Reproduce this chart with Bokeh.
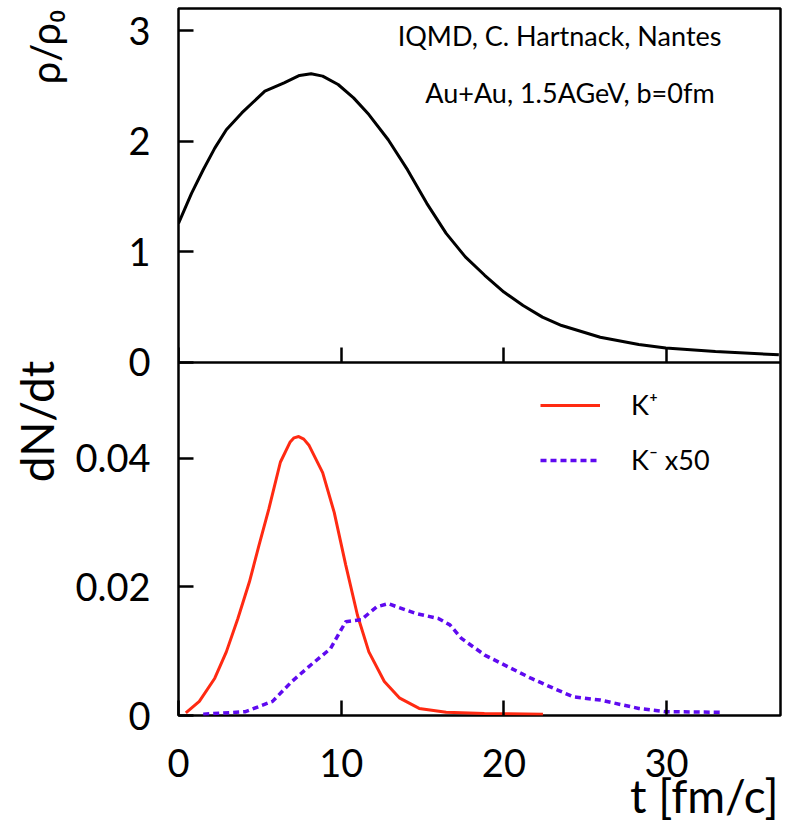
import math
from bokeh.plotting import figure
from bokeh.layouts import row
from bokeh.models import (Range1d, LinearAxis, FixedTicker, Label, Legend, LegendItem, GridBox)
from bokeh.embed import file_html
from bokeh.resources import INLINE

FONT = "Lato"

# ---- data ----
t_rho = [0, 0.8, 1.52, 2.23, 2.94, 3.89, 5.31, 6.49, 7.44, 8.15, 8.86, 9.81, 10.76, 11.7,
         12.89, 14.08, 15.26, 16.45, 17.63, 18.82, 20.0, 21.18, 22.37, 23.55, 25.92, 28.29,
         29.95, 33.0, 36.9]
rho = [1.255, 1.527, 1.74, 1.936, 2.103, 2.255, 2.452, 2.527, 2.594, 2.609, 2.588, 2.512,
       2.391, 2.24, 2.012, 1.739, 1.436, 1.164, 0.952, 0.785, 0.633, 0.512, 0.406, 0.33,
       0.224, 0.158, 0.127, 0.094, 0.066]

t_kp = [0.45, 1.28, 2.23, 2.94, 3.65, 4.36, 4.95, 5.55, 6.26, 6.85, 7.1, 7.39, 7.7, 8.03, 8.86,
        9.57, 10.28, 11.0, 11.7, 12.65, 13.6, 14.79, 16.45, 18.8, 22.4]
kp = [0.0004, 0.0022, 0.0058, 0.0099, 0.0151, 0.0208, 0.0265, 0.0321, 0.0394, 0.0425, 0.0432,
      0.0434, 0.043, 0.042, 0.0378, 0.0316, 0.0234, 0.0156, 0.0099, 0.0053, 0.0027, 0.0011,
      0.0005, 0.0003, 0.0002]

t_km = [1.52, 4.12, 5.78, 6.97, 8.15, 9.34, 10.28, 11.23, 12.18, 12.89, 14.55, 15.97, 16.68,
        17.39, 18.82, 20.24, 21.66, 23.08, 24.27, 25.92, 28.29, 29.95, 33.27]
km = [0.0002, 0.0006, 0.0022, 0.0053, 0.0079, 0.0104, 0.0146, 0.0149, 0.0169, 0.0174, 0.0159,
      0.0151, 0.0141, 0.012, 0.0094, 0.0076, 0.0058, 0.0042, 0.0029, 0.0024, 0.0011, 0.0006,
      0.0005]

x_ticks = [0, 10, 20, 30]
rho_ticks = [0, 1, 2, 3]
rho_tick_labels = ["0", "1", "2", "3"]
dn_ticks = [0, 0.02, 0.04]
dn_tick_labels = ["0", "0.02", "0.04"]

RED = "#ff2a12"
BLUE = "#5f0af0"

X_MAX = 37
RHO_MAX = 3.2     # top panel: rho/rho0 from 0 to RHO_MAX
DN_MAX = 0.055    # bottom panel: dN/dt from 0 to DN_MAX

# Both panels share one frame: the top half shows rho on the main range,
# the bottom half shows dN/dt on an extra range.
y_main = Range1d(-RHO_MAX, RHO_MAX)
y_dn = Range1d(0, 2 * DN_MAX)


def dn_to_main(d):
    return y_main.start + (d - y_dn.start) * (y_main.end - y_main.start) / (y_dn.end - y_dn.start)


all_ticks = list(rho_ticks) + [dn_to_main(d) for d in dn_ticks]
all_labels = dict(zip(rho_ticks, rho_tick_labels))
all_labels.update({dn_to_main(d): s for d, s in zip(dn_ticks, dn_tick_labels)})

W, H = 792, 829
STRIP = 72

p = figure(width=W - STRIP, height=H, output_backend="svg", toolbar_location=None,
           x_range=Range1d(0, X_MAX), y_range=y_main,
           min_border_left=105, min_border_right=12, min_border_top=8, min_border_bottom=114)
p.extra_y_ranges = {"dn": y_dn}
p.grid.visible = False
p.outline_line_color = "black"
p.outline_line_width = 2.5
p.background_fill_color = "white"
p.border_fill_color = "white"


def style_axis(ax, size="38px", standoff=30):
    ax.major_tick_in = 15
    ax.major_tick_out = 0
    ax.minor_tick_in = 0
    ax.minor_tick_out = 0
    ax.major_tick_line_width = 2.5
    ax.major_tick_line_color = "black"
    ax.axis_line_color = None
    ax.major_label_text_font = FONT
    ax.major_label_text_font_size = size
    ax.major_label_text_color = "black"
    ax.major_label_standoff = standoff


# bottom x axis
xa = p.xaxis[0]
xa.ticker = FixedTicker(ticks=x_ticks)
style_axis(xa, standoff=33)

# left axis: ticks of both panels
ya = p.yaxis[0]
ya.ticker = FixedTicker(ticks=all_ticks)
ya.major_label_overrides = all_labels
style_axis(ya, standoff=28)

# divider between panels with top-panel x ticks
xa2 = LinearAxis(ticker=FixedTicker(ticks=x_ticks), fixed_location=0,
                 major_label_overrides={t: "" for t in x_ticks})
style_axis(xa2)
xa2.axis_line_color = "black"
xa2.axis_line_width = 2.5
p.add_layout(xa2, "below")

# curves
p.line(t_rho, rho, line_color="black", line_width=3)
r_kp = p.line(t_kp, kp, y_range_name="dn", line_color=RED, line_width=3)
r_km = p.line(t_km, km, y_range_name="dn", line_color=BLUE, line_width=3.5, line_dash="6 4")

legend = Legend(items=[LegendItem(label="K⁺", renderers=[r_kp]),
                       LegendItem(label="K⁻ x50", renderers=[r_km])],
                location=(362, 239), border_line_color=None, background_fill_alpha=0,
                padding=0, margin=0, spacing=22, glyph_width=60, glyph_height=28,
                label_height=28, label_standoff=31, label_text_font=FONT,
                label_text_font_size="27px", label_text_color="black")
p.add_layout(legend)

p.add_layout(Label(x=33.37, y=2.96, text="IQMD, C. Hartnack, Nantes",
                   text_align="right", text_baseline="middle", text_font=FONT,
                   text_font_size="27px", text_color="black"))
p.add_layout(Label(x=32.95, y=2.44, text="Au+Au, 1.5AGeV, b=0fm",
                   text_align="right", text_baseline="middle", text_font=FONT,
                   text_font_size="27px", text_color="black"))

# narrow strip on the left holding the two y-axis titles (same vertical scales)
tf = figure(width=STRIP, height=H, output_backend="svg", toolbar_location=None,
            x_range=Range1d(0, STRIP), y_range=y_main, x_axis_type=None, y_axis_type=None,
            min_border_left=0, min_border_right=0, min_border_top=8, min_border_bottom=114)
tf.extra_y_ranges = {"dn": y_dn}
tf.outline_line_color = None
tf.grid.visible = False
tf.add_layout(Label(x=44, y=3.19, text="ρ/ρ₀", angle=math.pi / 2,
                    text_align="right", text_baseline="middle", text_font=FONT,
                    text_font_size="40px", text_color="black"))
tf.add_layout(Label(x=36, y=0.0552, y_range_name="dn", text="dN/dt", angle=math.pi / 2,
                    text_align="right", text_baseline="middle", text_font=FONT,
                    text_font_size="46px", text_color="black"))

# transparent overlay (same cell) holding the x-axis title under the right end of the axis
ov = figure(width=W, height=H, output_backend="svg", toolbar_location=None,
            x_range=Range1d(0, W), y_range=Range1d(0, H), x_axis_type=None, y_axis_type=None,
            min_border_left=0, min_border_right=0, min_border_top=0, min_border_bottom=0)
ov.outline_line_color = None
ov.grid.visible = False
ov.background_fill_alpha = 0
ov.border_fill_alpha = 0
ov.add_layout(Label(x=778, y=34, text="t [fm/c]", text_align="right", text_baseline="middle",
                    text_font=FONT, text_font_size="46px", text_color="black"))

layout = GridBox(children=[(row(tf, p, spacing=0), 0, 0), (ov, 0, 0)])
open("out.html", "w").write(file_html(layout, INLINE))
